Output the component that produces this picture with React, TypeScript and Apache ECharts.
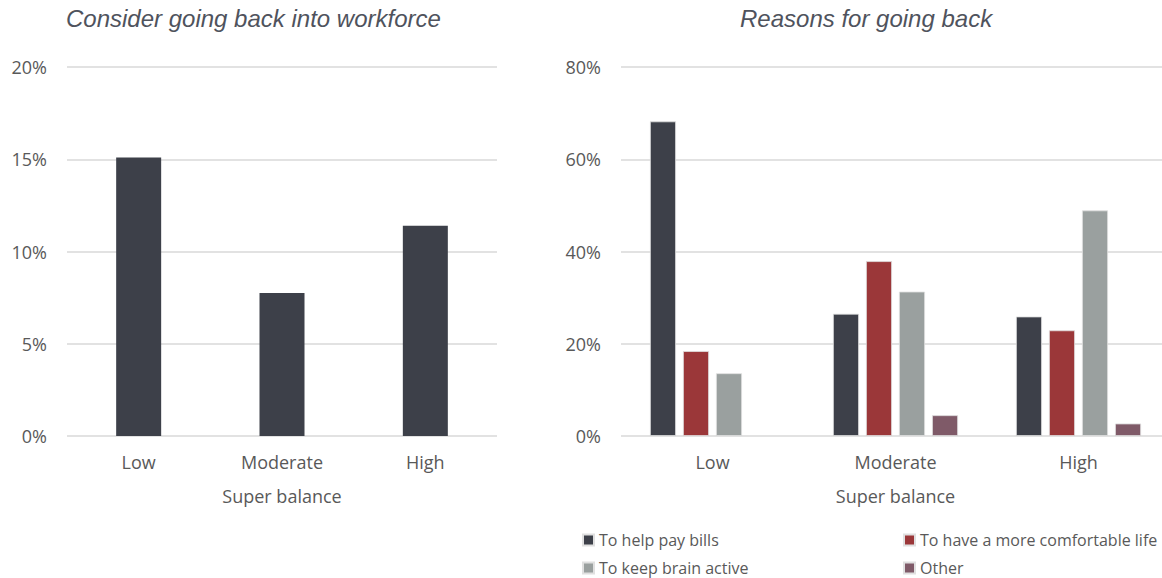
import React, { useEffect, useRef } from "react";
import * as echarts from "echarts";

const categories = ["Low", "Moderate", "High"];
const considerValues = [15.1, 7.75, 11.4];
const leftTicks = [0, 5, 10, 15, 20];
const rightTicks = [0, 20, 40, 60, 80];
const reasonNames = [
  "To help pay bills",
  "To have a more comfortable life",
  "To keep brain active",
  "Other",
];
const payBills = [68.2, 26.5, 25.9];
const comfortable = [18.4, 37.9, 22.9];
const brainActive = [13.6, 31.3, 48.9];
const other: (number | null)[] = [null, 4.5, 2.7];
const reasonColors = ["#3d4049", "#9b3739", "#9aa09f", "#7f5a68"];

const axisFont = "'Open Sans', 'Noto Sans', sans-serif";

export default function App() {
  const ref = useRef<HTMLDivElement>(null);
  useEffect(() => {
    if (!ref.current) return;
    const chart = echarts.init(ref.current, undefined, { renderer: "svg" });
    const reasonData = [payBills, comfortable, brainActive, other];
    const yAxisCommon = (ticks: number[], gridIndex: number) => ({
      type: "value" as const,
      gridIndex,
      min: ticks[0],
      max: ticks[ticks.length - 1],
      interval: ticks[1] - ticks[0],
      axisLine: { show: false },
      axisTick: { show: false },
      splitLine: { lineStyle: { color: "#d9d9d9", width: 1.5 } },
      axisLabel: {
        formatter: "{value}%",
        color: "#595959",
        fontSize: 18,
        fontFamily: axisFont,
        margin: 20,
      },
    });
    const xAxisCommon = (gridIndex: number) => ({
      type: "category" as const,
      gridIndex,
      data: categories,
      axisLine: { show: false },
      axisTick: { show: false },
      axisLabel: {
        color: "#595959",
        fontSize: 18,
        fontFamily: axisFont,
        margin: 17,
      },
      name: "Super balance",
      nameLocation: "middle" as const,
      nameGap: 51,
      nameTextStyle: { color: "#595959", fontSize: 18, fontFamily: axisFont },
    });
    const legendPos = [
      { left: 582, top: 532 },
      { left: 903, top: 532 },
      { left: 582, top: 560 },
      { left: 903, top: 560 },
    ];
    const titleStyle = {
      fontFamily: "'Liberation Sans', Arial, sans-serif",
      fontStyle: "italic" as const,
      fontWeight: "normal" as const,
      fontSize: 24,
      color: "#4f535d",
    };
    chart.setOption({
      animation: false,
      backgroundColor: "#ffffff",
      title: [
        { text: "Consider going back into workforce", left: 61, top: 1, textStyle: titleStyle },
        { text: "Reasons for going back", left: 735, top: 1, textStyle: titleStyle },
      ],
      legend: reasonNames.map((name, i) => ({
        ...legendPos[i],
        padding: 0,
        itemWidth: 11,
        itemHeight: 11,
        icon: "rect",
        selectedMode: false,
        data: [name],
        textStyle: { color: "#595959", fontSize: 16, fontFamily: axisFont },
      })),
      grid: [
        { left: 67, right: 673, top: 67, bottom: 142 },
        { left: 621, right: 0, top: 67, bottom: 142 },
      ],
      xAxis: [xAxisCommon(0), xAxisCommon(1)],
      yAxis: [yAxisCommon(leftTicks, 0), yAxisCommon(rightTicks, 1)],
      series: [
        {
          type: "bar",
          name: "Consider going back",
          xAxisIndex: 0,
          yAxisIndex: 0,
          data: considerValues,
          barWidth: 45,
          itemStyle: { color: "#3d4049" },
        },
        ...reasonNames.map((name, i) => ({
          type: "bar" as const,
          name,
          xAxisIndex: 1,
          yAxisIndex: 1,
          data: reasonData[i],
          barWidth: 26,
          barGap: "27%",
          itemStyle: { color: reasonColors[i], borderColor: "#e0e0e0", borderWidth: 0.8 },
        })),
      ],
    });
    return () => chart.dispose();
  }, []);
  return (
    <div
      style={{
        position: "absolute",
        left: 0,
        top: 0,
        width: 1162,
        height: 578,
        overflow: "hidden",
      }}
    >
      <div ref={ref} style={{ width: 1170, height: 578 }} />
    </div>
  );
}
